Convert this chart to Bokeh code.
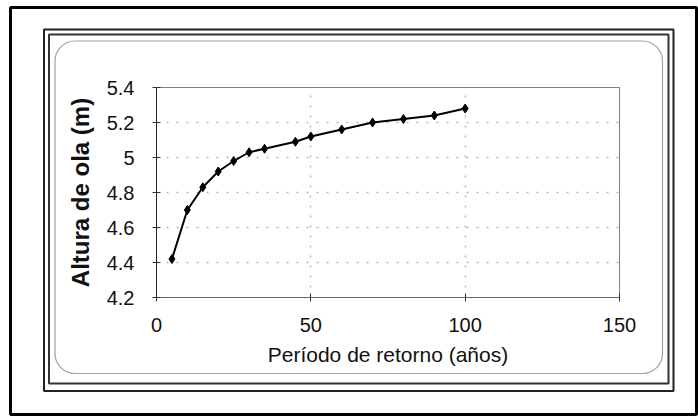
from bokeh.plotting import figure
from bokeh.models import Range1d, FixedTicker
from bokeh.embed import file_html
from bokeh.resources import INLINE

# ---- data ----
periodo = [5, 10, 15, 20, 25, 30, 35, 45, 50, 60, 70, 80, 90, 100]
altura = [4.42, 4.70, 4.83, 4.92, 4.98, 5.03, 5.05, 5.09, 5.12, 5.16, 5.20, 5.22, 5.24, 5.28]
x_ticks = [0, 50, 100, 150]
y_ticks = [4.2, 4.4, 4.6, 4.8, 5.0, 5.2, 5.4]
x_title = "Período de retorno (años)"
y_title = "Altura de ola (m)"

FONT = "Liberation Sans"
W, H = 698, 416
L, R, T, B = 156, 619, 87, 297
XMIN, XMAX, YMIN, YMAX = 0, 150, 4.2, 5.4

p = figure(width=W, height=H, output_backend="svg", toolbar_location=None,
           x_range=Range1d(XMIN, XMAX), y_range=Range1d(YMIN, YMAX),
           min_border_left=L, min_border_right=W - R,
           min_border_top=T, min_border_bottom=H - B)
p.background_fill_color = "white"
p.border_fill_color = "white"
p.outline_line_color = "#808080"
p.outline_line_width = 1


def xd(px):
    return XMIN + (px - L) / (R - L) * (XMAX - XMIN)


def yd(py):
    return YMIN + (B - py) / (B - T) * (YMAX - YMIN)


def frame_box(x0, y0, x1, y1, color, lw, radius=0):
    r = p.quad(left=[xd(x0)], right=[xd(x1)], top=[yd(y0)], bottom=[yd(y1)],
               fill_alpha=0, line_color=color, line_width=lw,
               border_radius=radius)
    r.level = "overlay"


# decorative frames around the chart
frame_box(10, 7, 696, 414, "black", 3)
frame_box(43.5, 29, 673, 390.5, "#222222", 2)
frame_box(48.5, 34, 668, 383, "#333333", 2)
frame_box(54.5, 40.5, 662, 373, "#a0a0a0", 1.2, 20)

# series
p.line(periodo, altura, line_color="black", line_width=2)
p.scatter(periodo, altura, marker="diamond", size=9, fill_color="black",
          line_color="black")

# axes
for ax in (p.xaxis, p.yaxis):
    ax.major_label_text_font = FONT
    ax.major_label_text_font_size = "20px"
    ax.major_label_text_color = "#111111"
    ax.axis_label_text_font = FONT
    ax.axis_label_text_color = "#111111"
    ax.minor_tick_line_color = None
    ax.major_tick_in = 4
    ax.major_tick_out = 4
    ax.major_tick_line_color = "#333333"

p.xaxis.ticker = FixedTicker(ticks=x_ticks)
p.yaxis.ticker = FixedTicker(ticks=y_ticks)
p.yaxis.major_label_overrides = {5.0: "5"}
p.xaxis.axis_label = x_title
p.yaxis.axis_label = y_title
p.xaxis.axis_label_text_font_size = "21px"
p.xaxis.axis_label_text_font_style = "normal"
p.yaxis.axis_label_text_font_size = "24px"
p.yaxis.axis_label_text_font_style = "bold"
p.xaxis.axis_line_color = "#666666"
p.yaxis.axis_line_color = "#222222"
p.xaxis.major_label_standoff = 16
p.yaxis.major_label_standoff = 18
p.xaxis.axis_label_standoff = 8
p.yaxis.axis_label_standoff = 10

# dotted grid
p.xgrid.ticker = FixedTicker(ticks=[50, 100])
p.ygrid.ticker = FixedTicker(ticks=[4.4, 4.6, 4.8, 5.0, 5.2])
for g in (p.xgrid, p.ygrid):
    g.grid_line_color = "#888888"
    g.grid_line_dash = "2 8"
    g.grid_line_width = 1.5
    g.grid_line_alpha = 0.6

open("out.html", "w").write(file_html(p, INLINE))
